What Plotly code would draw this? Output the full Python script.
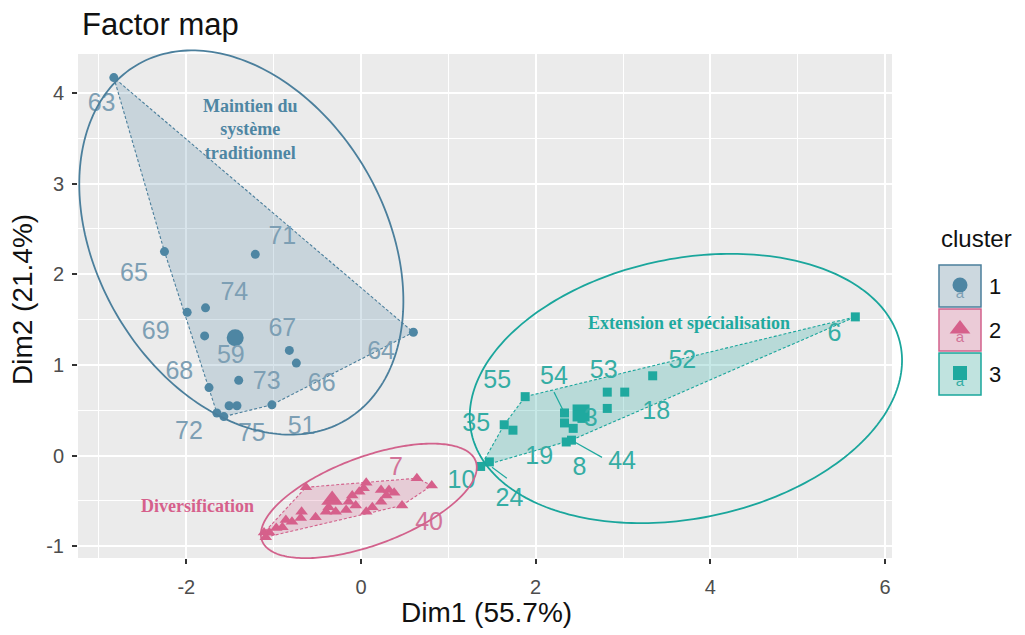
import numpy as np
import plotly.graph_objects as go

# ---------------- data (Dim1, Dim2 coordinates) ----------------
c1_x = [-2.83, -2.25, -1.21, -1.78, -1.99, -1.79, -1.42, -1.40, -0.82, -0.74,
        -1.74, -1.65, -1.57, -1.51, -1.42, -1.02, 0.60]
c1_y = [4.17, 2.25, 2.22, 1.63, 1.58, 1.32, 1.27, 0.83, 1.16, 1.02,
        0.75, 0.47, 0.43, 0.55, 0.55, 0.56, 1.36]
c1_center = [-1.44, 1.30]

c2_x = [-0.63, 0.06, 0.64, 0.81, 0.47, 0.23, 0.32, 0.38, 0.29, 0.23, 0.13, 0.06,
        -0.10, -0.02, 0.03, -0.14, -0.06, -0.17, -0.37, -0.29, -0.40, -0.52,
        -0.68, -0.69, -0.79, -0.86, -0.90, -0.97, -1.05, -1.11, -1.09]
c2_y = [-0.35, -0.30, -0.25, -0.33, -0.55, -0.38, -0.38, -0.41, -0.44, -0.51, -0.57, -0.62,
        -0.44, -0.40, -0.36, -0.51, -0.55, -0.60, -0.57, -0.62, -0.62, -0.68,
        -0.62, -0.69, -0.73, -0.71, -0.79, -0.80, -0.85, -0.85, -0.90]
c2_center = [-0.33, -0.49]

c3_x = [5.66, 3.34, 2.82, 3.02, 2.82, 2.33, 2.33, 2.43, 2.53, 2.35, 2.41,
        1.88, 1.64, 1.74, 1.37, 1.47]
c3_y = [1.53, 0.88, 0.70, 0.70, 0.52, 0.47, 0.36, 0.30, 0.41, 0.15, 0.17,
        0.65, 0.34, 0.28, -0.12, -0.07]
c3_center = [2.52, 0.47]

# point labels (text and label position)
c1_lab = ["63", "65", "71", "74", "69", "59", "67", "73", "68", "66", "64", "72", "75", "51"]
c1_lab_x = [-2.97, -2.60, -0.90, -1.45, -2.35, -1.49, -0.90, -1.08, -2.08, -0.45, 0.23, -1.97, -1.25, -0.68]
c1_lab_y = [3.87, 1.99, 2.40, 1.79, 1.36, 1.09, 1.39, 0.80, 0.91, 0.78, 1.13, 0.25, 0.23, 0.31]

c2_lab = ["7", "40"]
c2_lab_x = [0.40, 0.78]
c2_lab_y = [-0.14, -0.75]

c3_lab = ["55", "54", "53", "52", "18", "35", "19", "8", "44", "6", "10", "24", "3"]
c3_lab_x = [1.56, 2.21, 2.78, 3.68, 3.38, 1.32, 2.04, 2.50, 2.99, 5.42, 1.15, 1.70, 2.63]
c3_lab_y = [0.81, 0.86, 0.92, 1.03, 0.47, 0.34, -0.02, -0.14, -0.08, 1.33, -0.29, -0.49, 0.39]

# label leader segments (cluster 3)
seg_x0 = [2.21, 2.41, 1.50]
seg_y0 = [0.70, 0.17, -0.13]
seg_x1 = [2.33, 2.76, 1.67]
seg_y1 = [0.47, -0.02, -0.25]

# hand drawn ellipses: centre (data), semi-axes (px), angle (deg)
ell_cx = [-1.37, 0.09, 3.72]
ell_cy = [2.35, -0.50, 0.74]
ell_a = [206, 114, 219]
ell_b = [144, 44, 130]
ell_ang = [-59.7, 20.4, 11.5]

cluster_names = ["1", "2", "3"]
group_text = ["<b>Maintien du<br>système<br>traditionnel</b>", "<b>Diversification</b>",
              "<b>Extension et spécialisation</b>"]
group_x = [-1.26, -1.87, 3.76]
group_y = [3.60, -0.56, 1.46]

x_ticks = [-2, 0, 2, 4, 6]
y_ticks = [-1, 0, 1, 2, 3, 4]

# ---------------- style / geometry ----------------
W, H = 1025, 635
ML, MT, MB = 78, 54, 77
PANEL_W = 814
XR = [-3.24, 6.08]
YR = [-1.13, 4.43]
paper_w = W - ML
ph = H - MT - MB
sx = PANEL_W / (XR[1] - XR[0])
sy = ph / (YR[1] - YR[0])

col_pt = ["#4E86A3", "#D6608B", "#1FA99F"]
col_lab = ["#7D9FB4", "#D27499", "#35ADA4"]
col_fill = ["rgba(78,134,163,0.22)", "rgba(214,96,139,0.22)", "rgba(31,169,159,0.25)"]
col_line = ["#4B7F9C", "#D2628C", "#1AA69C"]
symbols = ["circle", "triangle-up", "square"]
sizes = [9, 11, 9]
csizes = [17, 19, 17]
FONT = "Liberation Sans, Arial, sans-serif"
SERIF = "Liberation Serif, Times New Roman, serif"


def hull(xs, ys):
    pts = sorted(set(zip(xs, ys)))

    def cross(o, a, b):
        return (a[0] - o[0]) * (b[1] - o[1]) - (a[1] - o[1]) * (b[0] - o[0])

    lower, upper = [], []
    for p in pts:
        while len(lower) >= 2 and cross(lower[-2], lower[-1], p) <= 0:
            lower.pop()
        lower.append(p)
    for p in reversed(pts):
        while len(upper) >= 2 and cross(upper[-2], upper[-1], p) <= 0:
            upper.pop()
        upper.append(p)
    h = lower[:-1] + upper[:-1]
    h.append(h[0])
    return [p[0] for p in h], [p[1] for p in h]


def px2paper(px, py):
    return (px - ML) / paper_w, (H - MB - py) / ph


def data2paper(x, y):
    return (x - XR[0]) * sx / paper_w, (y - YR[0]) / (YR[1] - YR[0])


fig = go.Figure()

# panel background (paper shape, below gridlines)
fig.add_shape(type="rect", xref="paper", yref="paper", x0=0, x1=PANEL_W / paper_w, y0=0, y1=1,
              fillcolor="#EBEBEB", line=dict(width=0), layer="below")

data = [(c1_x, c1_y, c1_center), (c2_x, c2_y, c2_center), (c3_x, c3_y, c3_center)]
labs = [(c1_lab, c1_lab_x, c1_lab_y), (c2_lab, c2_lab_x, c2_lab_y), (c3_lab, c3_lab_x, c3_lab_y)]

# hulls
for i, (xs, ys, cen) in enumerate(data):
    hx, hy = hull(xs, ys)
    fig.add_trace(go.Scatter(x=hx, y=hy, mode="lines", fill="toself",
                             fillcolor=col_fill[i],
                             line=dict(color=col_line[i], width=1.1, dash="3px,2px"),
                             hoverinfo="skip", showlegend=False))

# points + centres
for i, (xs, ys, cen) in enumerate(data):
    fig.add_trace(go.Scatter(x=xs, y=ys, mode="markers",
                             marker=dict(symbol=symbols[i], size=sizes[i], color=col_pt[i]),
                             name=cluster_names[i], showlegend=False))
    fig.add_trace(go.Scatter(x=[cen[0]], y=[cen[1]], mode="markers",
                             marker=dict(symbol=symbols[i], size=csizes[i], color=col_pt[i]),
                             showlegend=False, hoverinfo="skip"))

# leader segments
for x0, y0, x1, y1 in zip(seg_x0, seg_y0, seg_x1, seg_y1):
    fig.add_shape(type="line", x0=x0, y0=y0, x1=x1, y1=y1, xref="x", yref="y",
                  line=dict(color=col_pt[2], width=1.2))

# labels
for i, (tx, lx, ly) in enumerate(labs):
    fig.add_trace(go.Scatter(x=lx, y=ly, mode="text", text=tx,
                             textfont=dict(family=FONT, size=25, color=col_lab[i]),
                             showlegend=False, hoverinfo="skip"))

# ellipses (paper-referenced paths so they are not clipped by the panel)
t = np.linspace(0, 2 * np.pi, 240)
for i in range(3):
    ang = np.deg2rad(ell_ang[i])
    ex = ell_cx[i] + (ell_a[i] * np.cos(ang) * np.cos(t) - ell_b[i] * np.sin(ang) * np.sin(t)) / sx
    ey = ell_cy[i] + (ell_a[i] * np.sin(ang) * np.cos(t) + ell_b[i] * np.cos(ang) * np.sin(t)) / sy
    px_, py_ = data2paper(ex, ey)
    path = "M " + " L ".join(f"{a:.5f},{b:.5f}" for a, b in zip(px_, py_)) + " Z"
    fig.add_shape(type="path", path=path, xref="paper", yref="paper",
                  line=dict(color=col_line[i], width=1.8), fillcolor="rgba(0,0,0,0)", layer="above")

# group annotations
for i in range(3):
    fig.add_annotation(x=group_x[i], y=group_y[i], xref="x", yref="y", text=group_text[i],
                       showarrow=False, font=dict(family=SERIF, size=18, color=col_pt[i]),
                       align="center")

# title
tx, ty = px2paper(80, 25)
fig.add_annotation(x=tx, y=ty, xref="paper", yref="paper", text="Factor map", showarrow=False,
                   xanchor="left", yanchor="middle", font=dict(family=FONT, size=31, color="#111111"))
# axis titles
ax, ay = px2paper(486, 612)
fig.add_annotation(x=ax, y=ay, xref="paper", yref="paper", text="Dim1 (55.7%)", showarrow=False,
                   xanchor="center", yanchor="middle", font=dict(family=FONT, size=28, color="#111111"))
ax, ay = px2paper(22, 300)
fig.add_annotation(x=ax, y=ay, xref="paper", yref="paper", text="Dim2 (21.4%)", showarrow=False,
                   textangle=-90, xanchor="center", yanchor="middle",
                   font=dict(family=FONT, size=28, color="#111111"))

# legend (manual, keys drawn on an overlay pixel axis)
lx, ly = px2paper(939, 238)
fig.add_annotation(x=lx, y=ly, xref="paper", yref="paper", text="cluster", showarrow=False,
                   xanchor="left", yanchor="middle", font=dict(family=FONT, size=24, color="#111111"))
key_fill = ["#CCD8DF", "#EBCBD7", "#C0E3DF"]
key_msize = [15, 18, 14]
key_top = [265, 309, 353]
for i in range(3):
    top = key_top[i]
    x0, y1 = px2paper(939, top)
    x1, y0 = px2paper(981, top + 42)
    fig.add_shape(type="rect", xref="paper", yref="paper", x0=x0, x1=x1, y0=y0, y1=y1,
                  fillcolor=key_fill[i], line=dict(color=col_line[i], width=1.5), layer="below")
    fig.add_trace(go.Scatter(x=[960], y=[top + 29], mode="text", text=["a"], xaxis="x2", yaxis="y2",
                             textfont=dict(family=FONT, size=15, color=col_lab[i]),
                             showlegend=False, hoverinfo="skip"))
    fig.add_trace(go.Scatter(x=[960], y=[top + 20], mode="markers", xaxis="x2", yaxis="y2",
                             marker=dict(symbol=symbols[i], size=key_msize[i], color=col_pt[i]),
                             showlegend=False, hoverinfo="skip"))
    nx, ny = px2paper(1003, top + 21)
    fig.add_annotation(x=nx, y=ny, xref="paper", yref="paper", text=cluster_names[i], showarrow=False,
                       font=dict(family=FONT, size=22, color="#111111"))

fig.update_layout(
    width=W, height=H,
    margin=dict(l=ML, r=0, t=MT, b=MB, pad=0),
    paper_bgcolor="white", plot_bgcolor="rgba(0,0,0,0)",
    showlegend=False,
    xaxis=dict(domain=[0, PANEL_W / paper_w], range=XR, tickvals=x_ticks,
               ticktext=[str(v) for v in x_ticks],
               showgrid=True, gridcolor="white", gridwidth=1.6, zeroline=False,
               ticks="outside", ticklen=5, tickwidth=1.5, tickcolor="#333333",
               tickfont=dict(family=FONT, size=20, color="#4D4D4D"), ticklabelstandoff=6,
               minor=dict(tickvals=[-3, -1, 1, 3, 5], showgrid=True, gridcolor="white", gridwidth=0.7, ticks=""),
               showline=False, automargin=False),
    yaxis=dict(domain=[0, 1], range=YR, tickvals=y_ticks, ticktext=[str(v) for v in y_ticks],
               showgrid=True, gridcolor="white", gridwidth=1.6, zeroline=False,
               ticks="outside", ticklen=5, tickwidth=1.5, tickcolor="#333333",
               tickfont=dict(family=FONT, size=20, color="#4D4D4D"), ticklabelstandoff=4,
               minor=dict(tickvals=[-0.5, 0.5, 1.5, 2.5, 3.5], showgrid=True, gridcolor="white", gridwidth=0.7, ticks=""),
               showline=False, automargin=False),
    xaxis2=dict(domain=[0, 1], range=[ML, W], visible=False, anchor="y2", fixedrange=True),
    yaxis2=dict(domain=[0, 1], range=[H - MB, MT], visible=False, anchor="x2", fixedrange=True),
)

fig.write_html("out.html", config={"displayModeBar": False},
               post_script="document.body.style.margin='0';document.body.style.overflow='hidden';")
